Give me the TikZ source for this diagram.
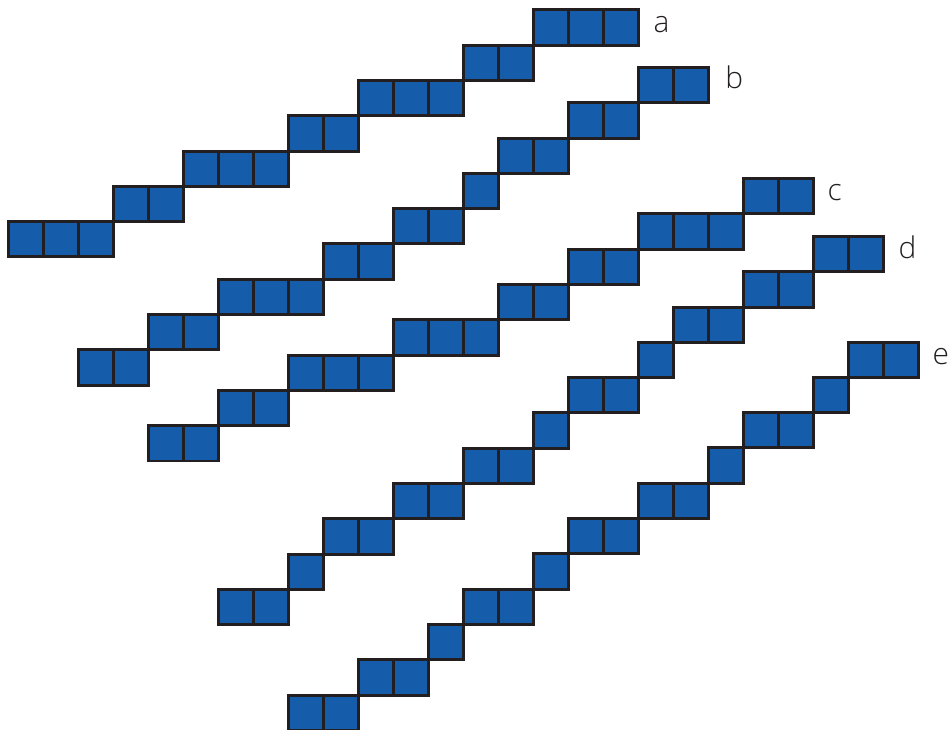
\documentclass[tikz,border=0pt]{standalone}
\usepackage{fontspec}
\setmainfont{Open Sans}
\newfontfamily\tagfont{Open Sans Light}
\usepackage{tikz}
\pgfdeclarelayer{edgelayer}
\pgfdeclarelayer{nodelayer}
\pgfsetlayers{edgelayer,nodelayer,main}
\definecolor{cellblue}{RGB}{21,92,170}
\definecolor{celledge}{RGB}{35,31,32}
\tikzstyle{cell}=[rectangle, fill=cellblue, draw=celledge, line width=0.85pt, inner sep=0pt, minimum width=0.35cm, minimum height=0.353cm]
\tikzstyle{tag}=[anchor=base west, inner sep=0pt, text=celledge, font=\tagfont\fontsize{8.5}{10}\selectfont]

\begin{document}
\begin{tikzpicture}[x=0.35cm, y=0.353cm]
				\useasboundingbox (-0.7486, 0) rectangle (26.366, 20.68);
				\begin{pgfonlayer}{nodelayer}
					% a
					\node [style=cell] (a0) at (0, 13.9) {};
					\node [style=cell] (a1) at (1, 13.9) {};
					\node [style=cell] (a2) at (2, 13.9) {};
					\node [style=cell] (a3) at (3, 14.9) {};
					\node [style=cell] (a4) at (4, 14.9) {};
					\node [style=cell] (a5) at (5, 15.9) {};
					\node [style=cell] (a6) at (6, 15.9) {};
					\node [style=cell] (a7) at (7, 15.9) {};
					\node [style=cell] (a8) at (8, 16.9) {};
					\node [style=cell] (a9) at (9, 16.9) {};
					\node [style=cell] (a10) at (10, 17.9) {};
					\node [style=cell] (a11) at (11, 17.9) {};
					\node [style=cell] (a12) at (12, 17.9) {};
					\node [style=cell] (a13) at (13, 18.9) {};
					\node [style=cell] (a14) at (14, 18.9) {};
					\node [style=cell] (a15) at (15, 19.9) {};
					\node [style=cell] (a16) at (16, 19.9) {};
					\node [style=cell] (a17) at (17, 19.9) {};
					% b
					\node [style=cell] (b0) at (2, 10.27) {};
					\node [style=cell] (b1) at (3, 10.27) {};
					\node [style=cell] (b2) at (4, 11.27) {};
					\node [style=cell] (b3) at (5, 11.27) {};
					\node [style=cell] (b4) at (6, 12.27) {};
					\node [style=cell] (b5) at (7, 12.27) {};
					\node [style=cell] (b6) at (8, 12.27) {};
					\node [style=cell] (b7) at (9, 13.27) {};
					\node [style=cell] (b8) at (10, 13.27) {};
					\node [style=cell] (b9) at (11, 14.27) {};
					\node [style=cell] (b10) at (12, 14.27) {};
					\node [style=cell] (b11) at (13, 15.27) {};
					\node [style=cell] (b12) at (14, 16.27) {};
					\node [style=cell] (b13) at (15, 16.27) {};
					\node [style=cell] (b14) at (16, 17.27) {};
					\node [style=cell] (b15) at (17, 17.27) {};
					\node [style=cell] (b16) at (18, 18.27) {};
					\node [style=cell] (b17) at (19, 18.27) {};
					% c
					\node [style=cell] (c0) at (4, 8.12) {};
					\node [style=cell] (c1) at (5, 8.12) {};
					\node [style=cell] (c2) at (6, 9.12) {};
					\node [style=cell] (c3) at (7, 9.12) {};
					\node [style=cell] (c4) at (8, 10.12) {};
					\node [style=cell] (c5) at (9, 10.12) {};
					\node [style=cell] (c6) at (10, 10.12) {};
					\node [style=cell] (c7) at (11, 11.12) {};
					\node [style=cell] (c8) at (12, 11.12) {};
					\node [style=cell] (c9) at (13, 11.12) {};
					\node [style=cell] (c10) at (14, 12.12) {};
					\node [style=cell] (c11) at (15, 12.12) {};
					\node [style=cell] (c12) at (16, 13.12) {};
					\node [style=cell] (c13) at (17, 13.12) {};
					\node [style=cell] (c14) at (18, 14.12) {};
					\node [style=cell] (c15) at (19, 14.12) {};
					\node [style=cell] (c16) at (20, 14.12) {};
					\node [style=cell] (c17) at (21, 15.12) {};
					\node [style=cell] (c18) at (22, 15.12) {};
					% d
					\node [style=cell] (d0) at (6, 3.48) {};
					\node [style=cell] (d1) at (7, 3.48) {};
					\node [style=cell] (d2) at (8, 4.48) {};
					\node [style=cell] (d3) at (9, 5.48) {};
					\node [style=cell] (d4) at (10, 5.48) {};
					\node [style=cell] (d5) at (11, 6.48) {};
					\node [style=cell] (d6) at (12, 6.48) {};
					\node [style=cell] (d7) at (13, 7.48) {};
					\node [style=cell] (d8) at (14, 7.48) {};
					\node [style=cell] (d9) at (15, 8.48) {};
					\node [style=cell] (d10) at (16, 9.48) {};
					\node [style=cell] (d11) at (17, 9.48) {};
					\node [style=cell] (d12) at (18, 10.48) {};
					\node [style=cell] (d13) at (19, 11.48) {};
					\node [style=cell] (d14) at (20, 11.48) {};
					\node [style=cell] (d15) at (21, 12.48) {};
					\node [style=cell] (d16) at (22, 12.48) {};
					\node [style=cell] (d17) at (23, 13.48) {};
					\node [style=cell] (d18) at (24, 13.48) {};
					% e
					\node [style=cell] (e0) at (8, 0.49) {};
					\node [style=cell] (e1) at (9, 0.49) {};
					\node [style=cell] (e2) at (10, 1.49) {};
					\node [style=cell] (e3) at (11, 1.49) {};
					\node [style=cell] (e4) at (12, 2.49) {};
					\node [style=cell] (e5) at (13, 3.49) {};
					\node [style=cell] (e6) at (14, 3.49) {};
					\node [style=cell] (e7) at (15, 4.49) {};
					\node [style=cell] (e8) at (16, 5.49) {};
					\node [style=cell] (e9) at (17, 5.49) {};
					\node [style=cell] (e10) at (18, 6.49) {};
					\node [style=cell] (e11) at (19, 6.49) {};
					\node [style=cell] (e12) at (20, 7.49) {};
					\node [style=cell] (e13) at (21, 8.49) {};
					\node [style=cell] (e14) at (22, 8.49) {};
					\node [style=cell] (e15) at (23, 9.49) {};
					\node [style=cell] (e16) at (24, 10.49) {};
					\node [style=cell] (e17) at (25, 10.49) {};
					% labels
					\node [style=tag] (la) at (17.91, 19.77) {a};
					\node [style=tag] (lb) at (19.96, 18.16) {b};
					\node [style=tag] (lc) at (22.88, 15.01) {c};
					\node [style=tag] (ld) at (24.91, 13.37) {d};
					\node [style=tag] (le) at (25.88, 10.34) {e};
				\end{pgfonlayer}
			\end{tikzpicture}
\end{document}
